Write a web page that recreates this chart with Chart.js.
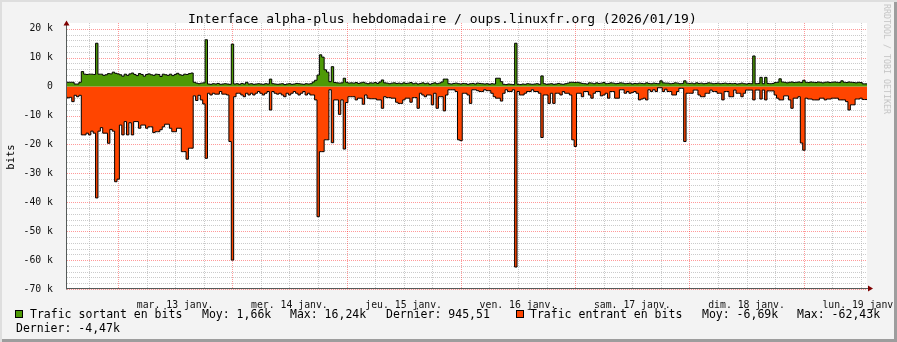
<!DOCTYPE html>
<html lang="fr">
<head>
<meta charset="utf-8">
<title>Interface alpha-plus hebdomadaire / oups.linuxfr.org</title>
<script src="https://cdn.jsdelivr.net/npm/chart.js@4/dist/chart.umd.min.js"></script>
<style>
html,body{margin:0;padding:0;background:#f3f3f3;overflow:hidden;}
#frame{position:relative;width:897px;height:342px;background:#f3f3f3;font-family:"DejaVu Sans Mono",monospace;color:#000;overflow:hidden;}
#chart{position:absolute;left:0;top:0;}
#bevel{position:absolute;left:0;top:0;width:897px;height:342px;box-shadow:inset 2px 2px 0 #dedede, inset -3px -3px 0 #9d9d9d;pointer-events:none;z-index:5;}
.t{position:absolute;white-space:pre;line-height:14px;}
.leg{font-size:11.5px;}
.sw{position:absolute;width:6px;height:6px;border:1px solid #000;}
#title{left:188px;top:12px;font-size:13px;}
#ylab{left:10px;top:157px;font-size:10.5px;transform:translate(-50%,-50%) rotate(-90deg);}
#wm{left:887px;top:59px;font-size:8.3px;color:#c4c4c4;transform:translate(-50%,-50%) rotate(90deg);}
</style>
</head>
<body>
<div id="frame">
  <canvas id="chart" width="897" height="342"></canvas>
  <div class="t" id="title">Interface alpha-plus hebdomadaire / oups.linuxfr.org (2026/01/19)</div>
  <div class="t" id="ylab">bits</div>
  <div class="t" id="wm">RRDTOOL / TOBI OETIKER</div>
  <div class="sw" style="left:15px;top:310px;background:#4E9A06"></div>
  <div class="t leg" style="left:30px;top:307px">Trafic sortant en bits</div>
  <div class="t leg" style="left:202px;top:307px">Moy: 1,66k</div>
  <div class="t leg" style="left:290px;top:307px">Max: 16,24k</div>
  <div class="t leg" style="left:386px;top:307px">Dernier: 945,51</div>
  <div class="sw" style="left:516px;top:310px;background:#FF4500"></div>
  <div class="t leg" style="left:530px;top:307px">Trafic entrant en bits</div>
  <div class="t leg" style="left:702px;top:307px">Moy: -6,69k</div>
  <div class="t leg" style="left:797px;top:307px">Max: -62,43k</div>
  <div class="t leg" style="left:16px;top:321px">Dernier: -4,47k</div>
  <div id="bevel"></div>
</div>
<script>
// ---- data (kbit/s), one value every 30 minutes ----
const startHour = 13.3;          // hours after 2026-01-12 00:00 of first sample
const stepHours = 0.5;
const dayLabels = ['lun. 12 janv.','mar. 13 janv.','mer. 14 janv.','jeu. 15 janv.','ven. 16 janv.','sam. 17 janv.','dim. 18 janv.','lun. 19 janv.'];
const yTickValues = [20,10,0,-10,-20,-30,-40,-50,-60,-70];
const yTickLabels = ['20 k','10 k','0','-10 k','-20 k','-30 k','-40 k','-50 k','-60 k','-70 k'];

const outK = [
 1.5,1.5,1.5,1.5,0.9,0.9,1.5,5.2,4.3,4.2,
 4.3,4.3,4.2,15.0,4.3,4.3,3.9,4.1,4.5,4.4,
 5.0,4.6,4.4,4.1,3.6,4.3,3.9,4.4,4.7,4.2,
 3.8,4.5,4.2,3.6,4.2,4.4,4.1,3.9,4.3,4.2,
 3.5,4.3,4.1,3.9,4.3,3.8,4.2,4.6,4.1,3.9,
 4.3,4.2,4.5,4.7,1.5,1.2,1.0,1.2,1.3,16.2,
 0.9,0.8,1.0,0.9,1.1,0.8,0.9,1.0,0.9,0.8,
 14.7,0.9,1.0,0.8,1.1,0.9,1.5,0.9,1.0,0.8,
 0.9,1.0,0.9,0.8,1.0,0.9,2.6,1.0,0.9,0.8,
 0.9,1.0,0.7,0.9,1.0,0.8,0.9,1.1,1.0,0.9,
 0.8,1.0,0.9,1.0,1.6,2.2,4.0,11.0,10.2,5.8,
 5.0,1.7,6.9,1.4,1.3,1.2,1.3,2.9,1.5,1.2,
 1.3,1.2,1.4,1.1,1.3,1.5,1.2,1.0,1.3,1.2,
 1.4,1.1,1.6,2.3,1.3,1.2,1.0,1.2,1.3,1.1,
 1.2,1.0,1.3,1.1,1.2,1.4,1.0,1.2,0.9,1.1,
 1.3,1.0,1.2,0.8,1.1,1.3,1.0,1.2,1.6,2.6,
 2.6,1.0,0.9,1.1,1.2,1.0,0.9,1.1,1.0,0.8,
 1.0,1.1,0.9,1.2,1.1,1.0,0.9,1.0,0.8,1.0,
 0.9,2.9,2.9,1.7,0.8,0.7,0.9,0.8,0.7,15.0,
 0.8,0.7,0.9,0.8,1.0,0.9,0.8,0.9,1.0,0.8,
 3.7,1.0,0.8,0.9,1.0,0.8,0.9,1.1,0.9,0.8,
 1.0,1.2,1.5,1.5,1.4,1.5,1.3,1.1,1.0,0.9,
 1.3,1.2,1.0,1.3,1.1,1.2,1.4,1.0,1.1,1.3,
 1.2,1.0,1.1,1.3,1.2,1.0,1.1,1.2,0.9,1.1,
 1.0,1.2,1.1,1.0,1.3,1.1,1.0,1.2,1.1,1.0,
 2.0,1.3,1.2,1.2,1.0,1.1,1.3,1.2,1.0,1.1,
 2.0,1.2,1.1,1.2,1.0,1.3,1.1,1.2,1.0,1.1,
 1.3,1.2,1.0,1.1,1.2,1.0,1.1,1.2,1.0,1.1,
 1.0,1.1,0.9,1.0,1.2,1.0,0.9,1.1,1.0,10.6,
 1.0,1.1,3.2,1.0,3.2,1.1,1.0,1.1,1.4,1.5,
 2.7,1.6,1.5,1.3,1.5,1.6,1.4,1.5,1.6,1.4,
 2.2,1.5,1.4,1.6,1.5,1.4,1.6,1.5,1.3,1.5,
 1.6,1.4,1.5,1.6,1.5,1.4,2.0,1.5,1.4,1.6,
 1.5,1.4,1.3,1.5,1.4,0.95
];

const inK = [
 -3.5,-3.9,-3.7,-5.2,-3.0,-3.5,-3.0,-16.7,-16.7,-16.1,
 -16.7,-15.4,-16.1,-38.5,-15.4,-14.2,-16.1,-16.1,-19.6,-14.8,
 -15.4,-32.9,-32.0,-13.3,-16.7,-12.1,-16.7,-12.5,-16.7,-12.1,
 -12.1,-14.4,-13.3,-13.3,-14.4,-13.9,-13.9,-15.9,-15.6,-15.6,
 -14.9,-13.9,-13.0,-13.0,-14.4,-15.6,-15.6,-14.4,-14.4,-22.5,
 -22.5,-25.1,-21.3,-21.3,-3.2,-4.8,-3.0,-4.6,-6.0,-24.8,
 -2.3,-2.9,-2.3,-2.6,-2.6,-1.7,-2.6,-2.6,-2.9,-19.0,
 -60.0,-3.5,-2.3,-2.3,-2.9,-3.5,-2.3,-2.9,-2.3,-2.9,
 -2.3,-1.7,-2.3,-2.9,-2.3,-1.7,-8.1,-1.7,-2.3,-2.6,
 -2.3,-2.9,-3.5,-2.3,-2.9,-2.3,-1.7,-2.3,-2.9,-2.3,
 -1.7,-2.9,-2.3,-2.9,-2.9,-4.6,-45.0,-22.5,-22.5,-18.4,
 -18.4,-1.1,-19.4,-4.6,-4.6,-9.6,-4.6,-21.6,-5.5,-3.5,
 -3.5,-3.5,-4.6,-4.0,-4.0,-6.1,-2.9,-4.0,-4.2,-4.2,
 -4.2,-4.6,-4.6,-7.5,-3.5,-3.8,-3.8,-4.0,-4.0,-5.4,
 -5.8,-5.8,-4.6,-4.0,-4.0,-5.4,-3.8,-3.8,-7.5,-2.3,
 -2.9,-3.5,-2.9,-2.9,-6.3,-2.3,-7.5,-3.5,-3.5,-8.4,
 -2.9,-1.1,-1.1,-1.1,-1.7,-18.4,-18.7,-2.3,-2.3,-2.9,
 -5.8,-1.1,-1.1,-1.4,-1.7,-1.7,-1.1,-1.4,-1.4,-2.3,
 -3.5,-4.0,-4.0,-5.0,-2.3,-1.1,-1.7,-1.7,-1.1,-62.4,
 -1.7,-2.9,-2.9,-2.3,-1.7,-1.7,-1.1,-1.7,-1.7,-2.3,
 -17.6,-2.9,-2.9,-5.8,-2.3,-5.8,-2.3,-2.3,-2.9,-1.7,
 -2.3,-2.3,-2.9,-18.4,-20.7,-2.3,-2.3,-3.5,-1.7,-1.7,
 -2.9,-4.0,-2.3,-1.7,-1.7,-3.2,-2.9,-2.3,-4.0,-1.7,
 -1.7,-4.0,-4.0,-1.1,-1.1,-2.3,-1.7,-2.3,-2.0,-1.7,
 -2.3,-4.6,-4.3,-4.0,-4.6,-1.1,-1.7,-1.1,-1.7,-0.4,
 -0.4,-1.7,-0.9,-1.7,-1.7,-2.9,-2.9,-1.7,-0.6,-0.6,
 -19.0,-2.3,-2.3,-2.3,-1.2,-1.2,-2.9,-3.5,-3.5,-2.3,
 -2.3,-1.2,-1.7,-1.7,-2.3,-2.3,-4.6,-1.7,-1.7,-3.5,
 -3.5,-1.2,-2.3,-2.3,-3.5,-2.3,-1.2,-1.2,-1.2,-4.6,
 -1.2,-1.2,-4.3,-1.2,-4.6,-1.5,-1.5,-1.5,-2.9,-4.0,
 -4.6,-4.6,-3.2,-3.2,-4.6,-7.5,-4.0,-4.0,-3.5,-19.5,
 -22.0,-4.0,-4.3,-4.3,-4.6,-4.6,-4.6,-4.0,-4.0,-4.6,
 -4.3,-4.3,-4.0,-4.0,-4.0,-4.6,-4.6,-4.6,-5.2,-8.1,
 -6.3,-6.3,-4.3,-4.3,-4.0,-4.47
];

function toPoints(vals) {
  const pts = vals.map((v, i) => ({ x: startHour + i * stepHours, y: v }));
  pts.push({ x: startHour + vals.length * stepHours, y: vals[vals.length - 1] });
  return pts;
}

const MINOR = 'rgba(175,175,175,0.65)';
const MAJOR = 'rgba(255,0,0,0.4)';

const rrdPlugin = {
  id: 'rrd',
  beforeDraw(chart) {
    const { ctx, chartArea: a } = chart;
    ctx.save();
    ctx.fillStyle = '#ffffff';
    ctx.fillRect(a.left, a.top, a.right - a.left, a.bottom - a.top);
    ctx.restore();
  },
  beforeDatasetsDraw(chart) {
    const { ctx, chartArea: a, scales: { x, y } } = chart;
    ctx.save();
    ctx.lineWidth = 1;
    ctx.setLineDash([1, 1]);
    const v = (val, col) => {
      const p = Math.round(x.getPixelForValue(val)) + 0.5;
      ctx.strokeStyle = col; ctx.beginPath(); ctx.moveTo(p, a.top); ctx.lineTo(p, a.bottom); ctx.stroke();
    };
    const h = (val, col) => {
      const p = Math.round(y.getPixelForValue(val)) + 0.5;
      ctx.strokeStyle = col; ctx.beginPath(); ctx.moveTo(a.left, p); ctx.lineTo(a.right, p); ctx.stroke();
    };
    x.ticks.forEach(t => { if (t.value % 24 !== 0) v(t.value, MINOR); });
    y.ticks.forEach(t => { if (t.value % 10 !== 0) h(t.value, MINOR); });
    x.ticks.forEach(t => { if (t.value % 24 === 0) v(t.value, MAJOR); });
    y.ticks.forEach(t => { if (t.value % 10 === 0) h(t.value, MAJOR); });
    ctx.restore();
  },
  afterDatasetsDraw(chart) {
    const { ctx, chartArea: a } = chart;
    ctx.save();
    ctx.lineWidth = 1;
    ctx.strokeStyle = '#555a58';
    ctx.beginPath();
    ctx.moveTo(a.left - 0.5, a.bottom + 0.5); ctx.lineTo(a.left - 0.5, a.top - 1);
    ctx.moveTo(a.left - 1, a.bottom - 0.5); ctx.lineTo(a.right + 3, a.bottom - 0.5);
    ctx.stroke();
    ctx.fillStyle = '#7f0000';
    ctx.beginPath();
    ctx.moveTo(a.left - 3.5, a.top + 2.5); ctx.lineTo(a.left + 2.5, a.top + 2.5); ctx.lineTo(a.left - 0.5, a.top - 2.5); ctx.closePath();
    ctx.fill();
    ctx.beginPath();
    ctx.moveTo(a.right + 1, a.bottom - 3.5); ctx.lineTo(a.right + 1, a.bottom + 2.5); ctx.lineTo(a.right + 6, a.bottom - 0.5); ctx.closePath();
    ctx.fill();
    ctx.restore();
  }
};

new Chart(document.getElementById('chart'), {
  type: 'line',
  data: {
    datasets: [
      { label: 'Trafic sortant en bits', data: toPoints(outK), stepped: 'after', fill: 'origin',
        backgroundColor: '#4E9A06', borderColor: '#000000', borderWidth: 1, pointRadius: 0 },
      { label: 'Trafic entrant en bits', data: toPoints(inK), stepped: 'after', fill: 'origin',
        backgroundColor: '#FF4500', borderColor: '#000000', borderWidth: 1, pointRadius: 0 }
    ]
  },
  options: {
    responsive: false,
    animation: false,
    devicePixelRatio: 1,
    layout: { padding: { left: 0, top: 23, right: 30, bottom: 0 } },
    plugins: { legend: { display: false }, tooltip: { enabled: false }, title: { display: false } },
    scales: {
      x: {
        type: 'linear',
        min: startHour,
        max: startHour + outK.length * stepHours,
        grid: { display: false },
        border: { display: false },
        afterBuildTicks(s) {
          const t = [];
          for (let hh = 18; hh <= s.max; hh += 6) t.push({ value: hh });
          s.ticks = t;
        },
        afterFit(s) { s.height = 53; s.paddingLeft = 0; s.paddingRight = 0; },
        ticks: {
          autoSkip: false, maxRotation: 0, minRotation: 0, padding: 3,
          color: '#111',
          font: { family: 'DejaVu Sans Mono', size: 9.8 },
          callback: (val) => (val % 24 === 12 ? dayLabels[(val - 12) / 24] : '')
        }
      },
      y: {
        min: -70,
        max: 22,
        grid: { display: false },
        border: { display: false },
        afterBuildTicks(s) {
          const t = [];
          for (let k = -70; k <= 20; k += 2) t.push({ value: k });
          s.ticks = t;
        },
        afterFit(s) { s.width = 67; s.paddingTop = 0; s.paddingBottom = 0; },
        ticks: {
          autoSkip: false, padding: 6,
          color: '#111',
          font: { family: 'DejaVu Sans Mono', size: 9.8 },
          callback: (val) => { const i = yTickValues.indexOf(val); return i >= 0 ? yTickLabels[i] : ''; }
        }
      }
    }
  },
  plugins: [rrdPlugin]
});
</script>
</body>
</html>
